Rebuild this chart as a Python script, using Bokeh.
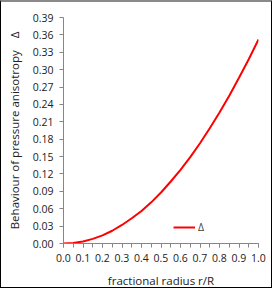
from bokeh.plotting import figure
from bokeh.models import Range1d, FixedTicker, NumeralTickFormatter, Legend, LegendItem
from bokeh.embed import file_html
from bokeh.resources import INLINE

r = [0.0, 0.05, 0.1, 0.15, 0.2, 0.25, 0.3, 0.35, 0.4, 0.45, 0.5, 0.55, 0.6, 0.65, 0.7, 0.75, 0.8, 0.85, 0.9, 0.95, 1.0]
delta = [0.0, 0.0009, 0.0035, 0.008, 0.014, 0.022, 0.032, 0.0435, 0.056, 0.071, 0.088, 0.107, 0.127, 0.149, 0.173, 0.199, 0.226, 0.255, 0.286, 0.318, 0.352]
x_ticks = [0.0, 0.1, 0.2, 0.3, 0.4, 0.5, 0.6, 0.7, 0.8, 0.9, 1.0]
y_ticks = [0.00, 0.03, 0.06, 0.09, 0.12, 0.15, 0.18, 0.21, 0.24, 0.27, 0.30, 0.33, 0.36, 0.39]

FONT = "Open Sans"
GRAY = "#868686"

p = figure(width=272, height=288, output_backend="svg", toolbar_location=None,
           x_range=Range1d(0, 1), y_range=Range1d(0, 0.39),
           min_border_left=62, min_border_right=15, min_border_top=15, min_border_bottom=43)
p.styles = {"border": "1px solid black", "border-top": "2px solid #8a8a8a", "box-sizing": "border-box"}
p.outline_line_color = None
p.xgrid.visible = False
p.ygrid.visible = False

line = p.line(r, delta, line_color="#ff0000", line_width=2)

p.xaxis.ticker = FixedTicker(ticks=x_ticks, minor_ticks=[i * 0.05 for i in range(21)])
p.yaxis.ticker = FixedTicker(ticks=y_ticks)
p.xaxis.formatter = NumeralTickFormatter(format="0.0")
p.yaxis.formatter = NumeralTickFormatter(format="0.00")
for ax in (p.xaxis, p.yaxis):
    ax.axis_line_color = GRAY
    ax.major_tick_line_color = GRAY
    ax.minor_tick_line_color = GRAY
    ax.major_tick_in = 0
    ax.major_tick_out = 4
    ax.minor_tick_in = 0
    ax.minor_tick_out = 4
    ax.major_label_text_font = FONT
    ax.major_label_text_font_size = "10.5px"
    ax.major_label_text_color = "#222222"
    ax.axis_label_text_font = FONT
    ax.axis_label_text_font_size = "11.5px"
    ax.axis_label_text_font_style = "normal"
    ax.axis_label_text_color = "#222222"
p.yaxis.minor_tick_line_color = None
p.xaxis.major_label_standoff = 6
p.xaxis.axis_label = "fractional radius r/R"
p.xaxis.axis_label_standoff = 8
p.yaxis.axis_label = "Behaviour of pressure anisotropy\u00a0\u00a0\u00a0\u00a0Δ"
p.yaxis.axis_label_standoff = 8
p.yaxis.major_label_standoff = 6

legend = Legend(items=[LegendItem(label="Δ", renderers=[line])], location=(110, 9),
                border_line_color=None, background_fill_alpha=0,
                label_text_font=FONT, label_text_font_size="10.5px",
                glyph_width=22, glyph_height=10, label_standoff=3,
                padding=0, margin=0)
p.add_layout(legend, "center")

open("out.html", "w").write(file_html(p, INLINE))
